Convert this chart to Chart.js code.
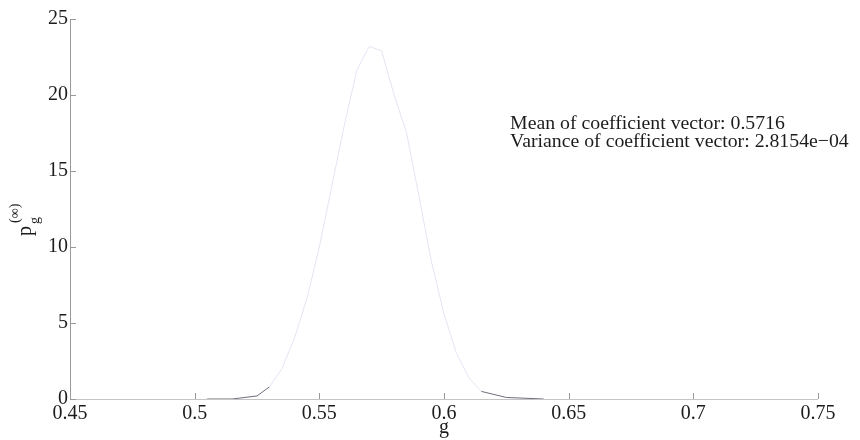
<!DOCTYPE html>
<html>
<head>
<meta charset="utf-8">
<script src="https://cdn.jsdelivr.net/npm/chart.js@4.4.1/dist/chart.umd.min.js"></script>
<style>
  html, body { margin: 0; padding: 0; background: #ffffff; }
  #wrap { width: 860px; height: 440px; position: relative; }
</style>
</head>
<body>
<div id="wrap"><canvas id="c" width="860" height="440"></canvas></div>
<script>
// Limiting density of the coefficient g
const gValues = [0.505, 0.515, 0.525, 0.53, 0.535, 0.54, 0.545, 0.55, 0.555, 0.56, 0.565, 0.57,
                 0.575, 0.58, 0.585, 0.59, 0.595, 0.6, 0.605, 0.61, 0.615, 0.625, 0.64];
const pValues = [0, 0, 0.2, 0.8, 2.0, 4.0, 6.6, 10.0, 14.0, 18.0, 21.6, 23.2,
                 22.9, 20.0, 17.5, 13.3, 9.0, 5.6, 3.0, 1.4, 0.5, 0.1, 0];

const xTicks = [0.45, 0.5, 0.55, 0.6, 0.65, 0.7, 0.75];
const yTicks = [0, 5, 10, 15, 20, 25];

const statLines = ['Mean of coefficient vector: 0.5716',
                   'Variance of coefficient vector: 2.8154e\u221204'];

const FONT = "'Liberation Serif', 'DejaVu Serif', serif";
const TEXT = '#1c1c1c';
const CURVE = '#e3e5f3';
const CURVE_FLAT = '#6e6e7c';

const points = gValues.map((g, i) => ({ x: g, y: pValues[i] }));

// Axis lines, inward tick marks, axis labels and the stats text
const decorations = {
  id: 'decorations',
  afterDatasetsDraw(chart) {
    const { ctx, chartArea: a, scales: { x, y } } = chart;
    ctx.save();
    ctx.lineWidth = 1;

    // left axis
    ctx.strokeStyle = '#9a9a9a';
    ctx.beginPath();
    ctx.moveTo(a.left + 0.5, a.top);
    ctx.lineTo(a.left + 0.5, a.bottom);
    ctx.stroke();
    // bottom axis
    ctx.strokeStyle = '#c4c4c4';
    ctx.beginPath();
    ctx.moveTo(a.left, a.bottom + 0.5);
    ctx.lineTo(a.right, a.bottom + 0.5);
    ctx.stroke();

    // inward ticks
    ctx.strokeStyle = '#9a9a9a';
    ctx.beginPath();
    yTicks.forEach(v => {
      const py = Math.round(y.getPixelForValue(v)) + 0.5;
      ctx.moveTo(a.left, py);
      ctx.lineTo(a.left + 6, py);
    });
    xTicks.forEach(v => {
      const px = Math.round(x.getPixelForValue(v)) + 0.5;
      ctx.moveTo(px, a.bottom);
      ctx.lineTo(px, a.bottom - 6);
    });
    ctx.stroke();

    ctx.fillStyle = TEXT;

    // x axis title
    ctx.font = '20px ' + FONT;
    ctx.textAlign = 'center';
    ctx.textBaseline = 'alphabetic';
    ctx.fillText('g', x.getPixelForValue(0.6), 433);

    // y axis title: p with subscript g and superscript (∞), rotated
    ctx.save();
    ctx.translate(31, 236);
    ctx.rotate(-Math.PI / 2);
    ctx.textAlign = 'left';
    ctx.font = '20px ' + FONT;
    ctx.fillText('p', 0, 0);
    const pw = ctx.measureText('p').width;
    ctx.font = '14px ' + FONT;
    ctx.fillText('g', pw + 2, 8);
    ctx.fillText('(\u221e)', pw + 3, -12);
    ctx.restore();

    // summary statistics
    ctx.font = '19.8px ' + FONT;
    ctx.textAlign = 'left';
    const tx = x.getPixelForValue(0.6265);
    const ty = y.getPixelForValue(17.75);
    statLines.forEach((s, i) => ctx.fillText(s, tx, ty + i * 17.5));

    ctx.restore();
  }
};

new Chart(document.getElementById('c'), {
  type: 'line',
  data: {
    datasets: [{
      data: points,
      borderWidth: 1,
      borderColor: CURVE,
      segment: {
        // the flat stretch lying on the axis reads darker than the sloped flanks
        borderColor: c => Math.max(c.p0.parsed.y, c.p1.parsed.y) <= 1 ? CURVE_FLAT : CURVE
      },
      pointRadius: 0,
      tension: 0,
      fill: false
    }]
  },
  options: {
    responsive: false,
    animation: false,
    events: [],
    layout: { padding: { top: 19, right: 42, left: 0, bottom: 0 } },
    plugins: { legend: { display: false }, tooltip: { enabled: false } },
    scales: {
      x: {
        type: 'linear',
        min: 0.45, max: 0.75,
        afterBuildTicks: s => { s.ticks = xTicks.map(v => ({ value: v })); },
        afterFit: s => { s.height = 41; },
        grid: { display: false, drawTicks: false },
        border: { display: false },
        ticks: {
          autoSkip: false, maxRotation: 0, padding: 3,
          color: TEXT, font: { family: FONT, size: 20 },
          callback: v => String(v)
        }
      },
      y: {
        min: 0, max: 25,
        afterBuildTicks: s => { s.ticks = yTicks.map(v => ({ value: v })); },
        afterFit: s => { s.width = 70; },
        grid: { display: false, drawTicks: false },
        border: { display: false },
        ticks: {
          padding: 2, color: TEXT, font: { family: FONT, size: 20 },
          callback: v => String(v)
        }
      }
    }
  },
  plugins: [decorations]
});
</script>
</body>
</html>
